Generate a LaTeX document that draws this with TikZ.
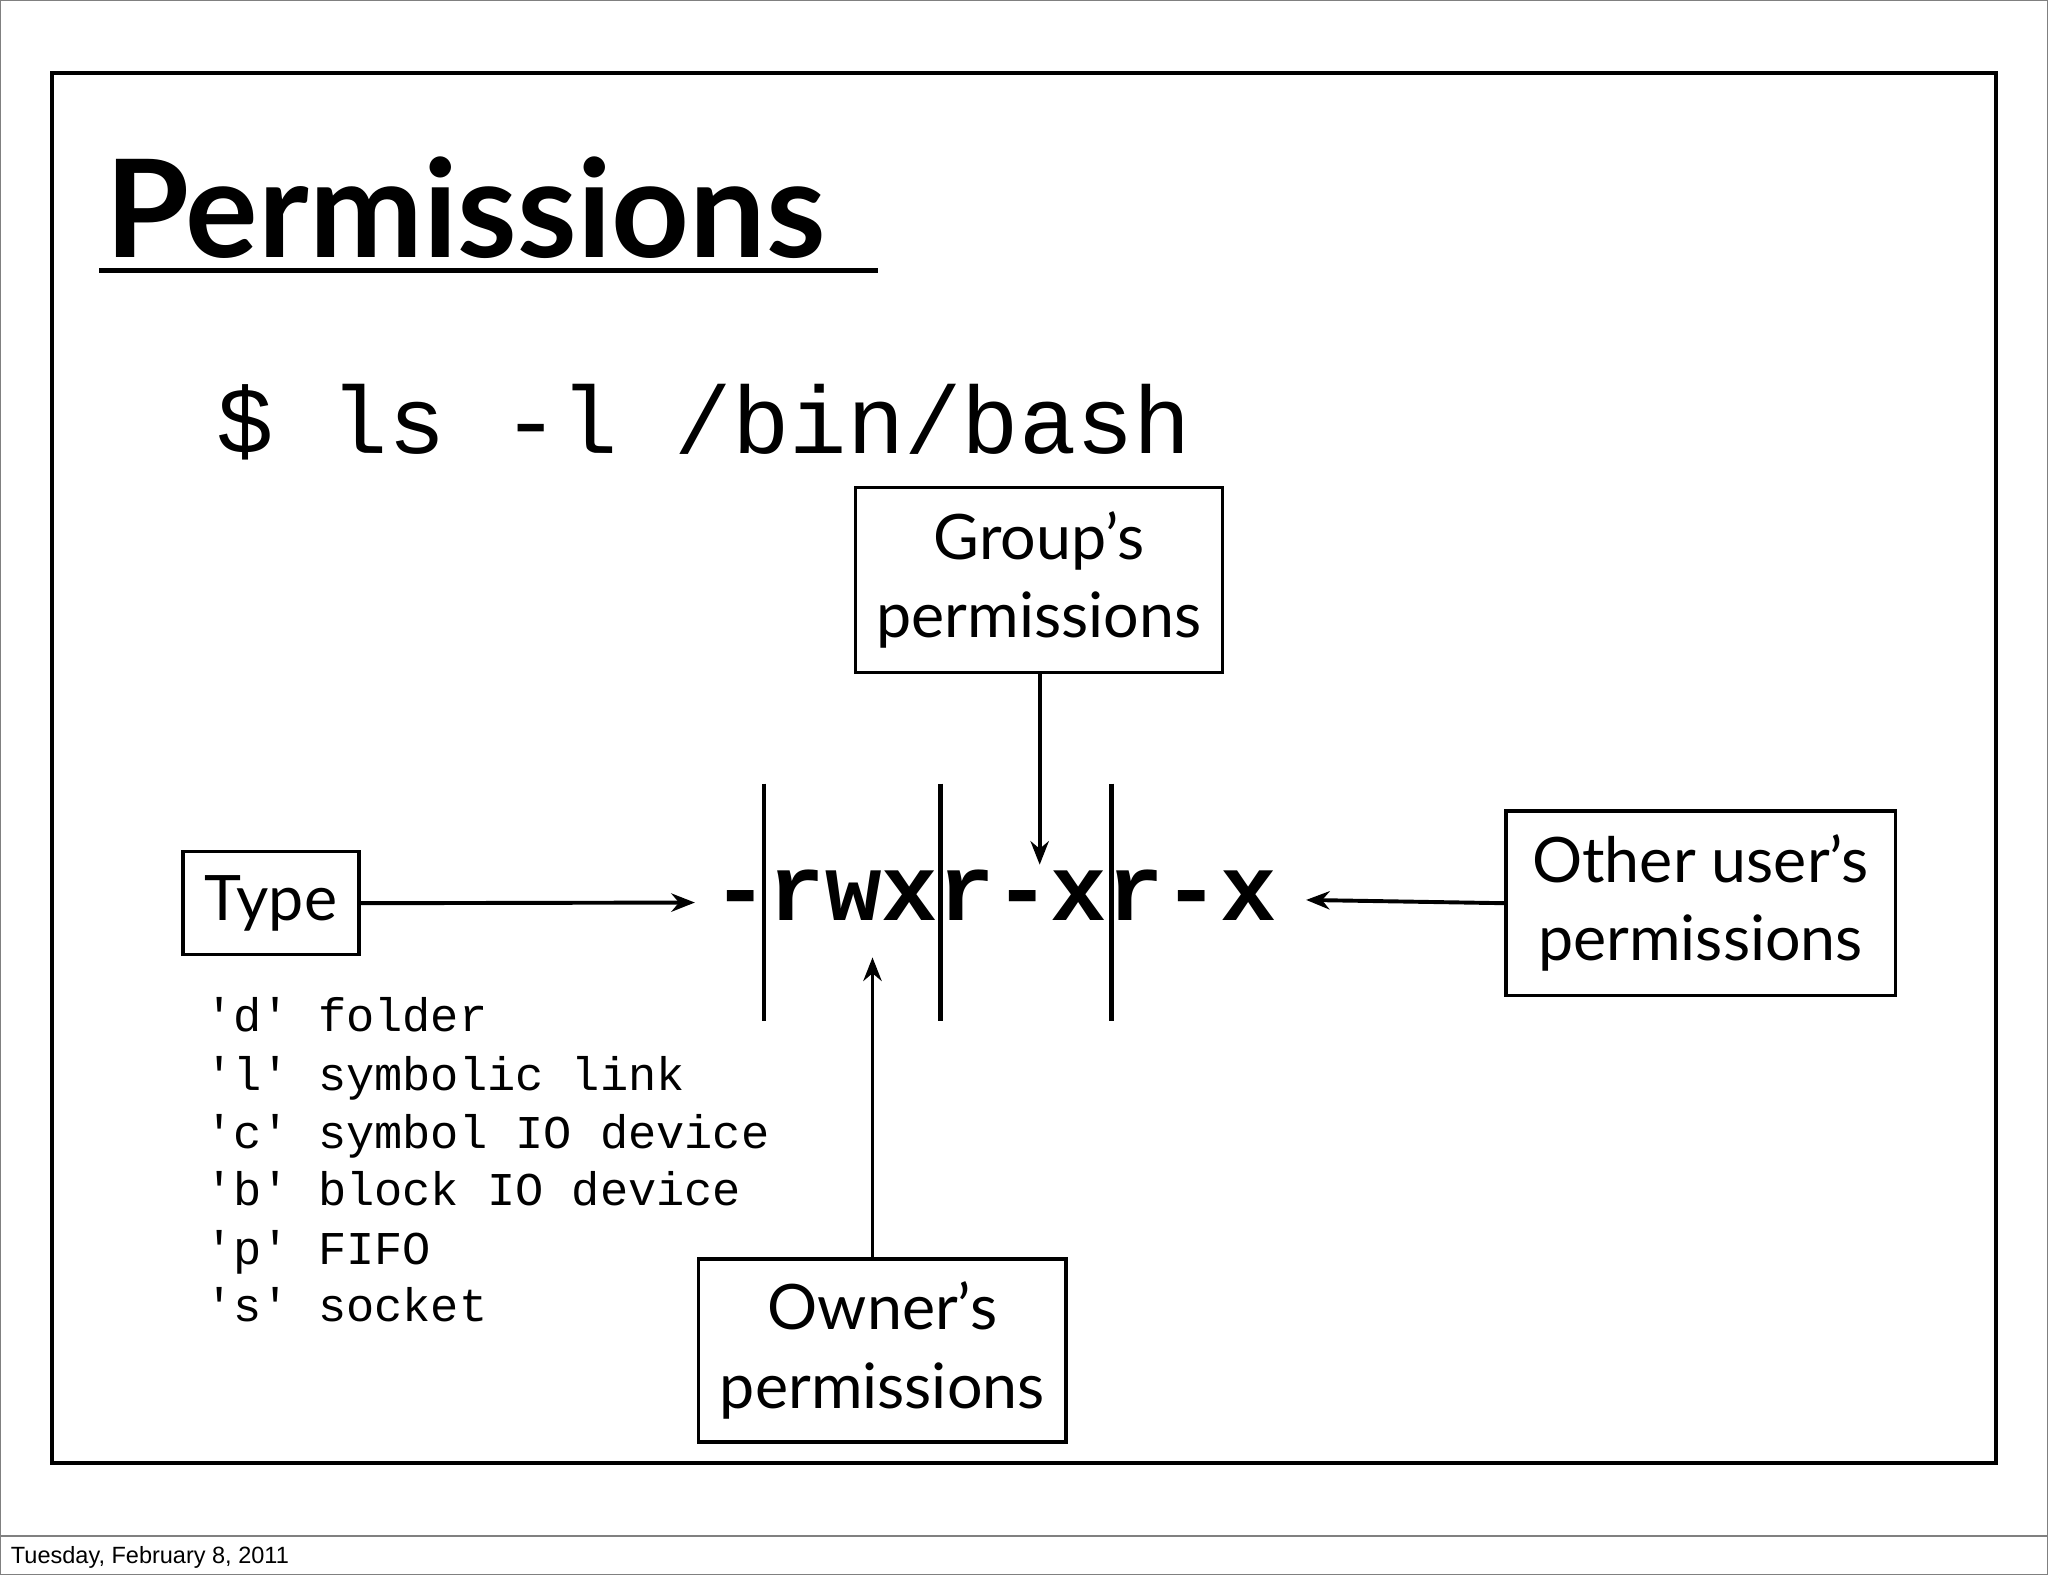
\documentclass[tikz,border=0pt]{standalone}
\usepackage{fontspec}
\setmainfont{Lato}
\newfontfamily\mono{Liberation Mono}
\newfontfamily\foot{Liberation Sans}
\usetikzlibrary{arrows.meta}
\begin{document}
\begin{tikzpicture}[x=0.5pt,y=-0.5pt,
  box/.style={draw,line width=1.3pt,inner sep=0pt,align=center,font=\fontsize{24}{30}\selectfont},
  arr/.style={line width=1.5pt,-{Stealth[length=9pt,width=7pt]}},
  bar/.style={line width=1.6pt},
  lst/.style={anchor=base west,font=\mono\fontsize{18}{18}\selectfont}]
\useasboundingbox (0,0) rectangle (1568,1206);
\draw[line width=0.5pt,gray] (0.5,0.5) rectangle (1567.5,1205.5);
\draw[line width=0.5pt,gray] (0,1176) -- (1568,1176);
\node[anchor=base west,font=\foot\fontsize{9}{9}\selectfont,inner sep=0] (foot) at (8,1197) {Tuesday, February 8, 2011};
\draw[line width=1.6pt] (40,56) rectangle (1528,1120);
\node[anchor=base west,inner sep=0,font=\fontsize{52}{52}\selectfont\bfseries] (title) at (80,197) {Permissions};
\draw[line width=2pt] (76,207) -- (672,207);
\node[anchor=base west,inner sep=0,font=\mono\fontsize{36.6}{36.6}\selectfont] (cmd) at (165,347) {\$ ls -l /bin/bash};
\node[anchor=base west,inner sep=0,font=\mono\bfseries\fontsize{36}{36}\selectfont] (perm) at (545,705) {-rwxr-xr-x};
\draw[bar] (585,600) -- (585,782);
\draw[bar] (720,600) -- (720,782);
\draw[bar] (851,600) -- (851,782);
\node[box,minimum width=281*0.5pt,minimum height=142*0.5pt] (group) at (795.5,444) {Group’s\\permissions};
\node[box,minimum width=135*0.5pt,minimum height=79*0.5pt] (type) at (207.5,691.5) {Type};
\node[box,minimum width=298*0.5pt,minimum height=141*0.5pt] (other) at (1302,691.5) {Other user’s\\permissions};
\node[box,minimum width=281*0.5pt,minimum height=140*0.5pt] (owner) at (675.5,1034) {Owner’s\\permissions};
\coordinate (tt) at (532,691);
\coordinate (gt) at (796,662);
\coordinate (ot) at (1000,689);
\coordinate (wt) at (668,733);
\draw[arr] (type.east) -- (tt);
\draw[arr] (group.south -| gt) -- (gt);
\draw[arr] (other.west) -- (ot);
\draw[arr] (owner.north -| wt) -- (wt);
\node[lst] (l1) at (150,790) {'d' folder};
\node[lst] (l2) at (150,835) {'l' symbolic link};
\node[lst] (l3) at (150,879) {'c' symbol IO device};
\node[lst] (l4) at (150,923) {'b' block IO device};
\node[lst] (l5) at (150,968) {'p' FIFO};
\node[lst] (l6) at (150,1012) {'s' socket};
\end{tikzpicture}
\end{document}
